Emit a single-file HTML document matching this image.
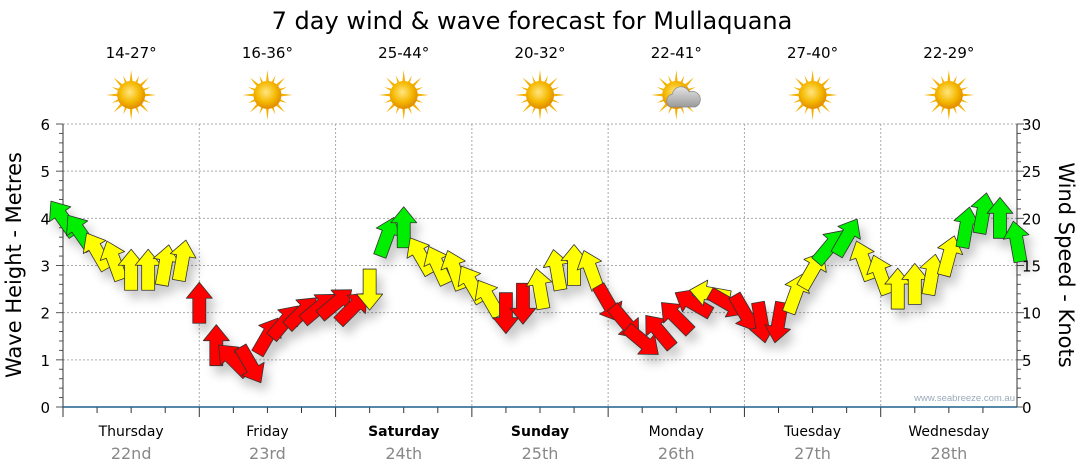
<!DOCTYPE html>
<html><head><meta charset="utf-8"><style>
body{margin:0;background:#fff;}
svg{display:block;font-family:"DejaVu Sans","Liberation Sans",sans-serif;}
</style></head><body>
<svg id="chart" width="1080" height="475" viewBox="0 0 1080 475">
<defs>
<filter id="sh" x="-50%" y="-50%" width="200%" height="200%"><feDropShadow dx="5" dy="8" stdDeviation="5" flood-color="#000" flood-opacity="0.22"/></filter>
<radialGradient id="sunG" cx="45%" cy="40%" r="60%"><stop offset="0" stop-color="#ffe680"/><stop offset="0.6" stop-color="#f5b800"/><stop offset="1" stop-color="#e08a00"/></radialGradient>
<linearGradient id="cloudG" x1="0" y1="0" x2="0" y2="1"><stop offset="0" stop-color="#e4e4e4"/><stop offset="1" stop-color="#9a9a9a"/></linearGradient>
</defs>
<text x="532" y="29" font-size="24" text-anchor="middle" fill="#000">7 day wind &amp; wave forecast for Mullaquana</text>
<g id="grid"></g><g id="axes"></g><g id="days"></g><g id="marks" filter="url(#sh)"></g>
<text x="1015" y="401" font-size="9.5" text-anchor="end" fill="#9aaabb" font-family="Liberation Sans">www.seabreeze.com.au</text>
<text transform="translate(21,265) rotate(-90)" font-size="21" text-anchor="middle">Wave Height - Metres</text>
<text transform="translate(1059,265) rotate(90)" font-size="21" text-anchor="middle">Wind Speed - Knots</text>
</svg>
<script>
const dayNames=["Thursday","Friday","Saturday","Sunday","Monday","Tuesday","Wednesday"];
const dayDates=["22nd","23rd","24th","25th","26th","27th","28th"];
const temps=["14-27°","16-36°","25-44°","20-32°","22-41°","27-40°","22-29°"];
const cloudy=[0,0,0,0,1,0,0];
const waveTicks=[0,1,2,3,4,5,6];
const windTicks=[0,5,10,15,20,25,30];
const waveHeight=[4.0,3.7,3.3,3.1,2.9,2.9,3.0,3.1, 2.2,1.3,1.0,0.9,1.5,1.8,2.0,2.1, 2.2,2.1,2.5,3.6,3.8,3.2,3.0,2.9, 2.6,2.3,2.0,2.2,2.5,2.9,3.0,2.9, 2.2,1.8,1.4,1.6,1.9,2.2,2.4,2.2, 2.0,1.8,1.8,2.4,2.9,3.4,3.6,3.1, 2.8,2.5,2.6,2.8,3.2,3.8,4.1,4.0,3.5];
const windDir=[-35,-35,-30,-20,0,0,10,10, 0,0,-45,150,30,40,45,50, 50,45,180,20,0,-30,-25,-20, -30,-30,180,180,-10,-10,0,-20, 150,140,130,-40,-45,-60,-80,120, 150,170,190,20,30,40,30,-20, -20,0,0,10,15,10,10,0,-10];
const windSpeed=[8,8,14,14,14,14,14,14, 25,25,25,25,25,25,25,25, 25,25,14,8,8,14,14,14, 14,14,25,25,14,14,14,14, 25,25,25,25,25,25,14,25, 25,25,25,14,14,8,8,14, 14,14,14,14,14,8,8,8,8];
const NS="http://www.w3.org/2000/svg";
const X0=63,X1=1017,Y0=407,Y1=124,DW=(X1-X0)/7;
const yW=v=>Y0-(Y0-Y1)*v/6, yK=v=>Y0-(Y0-Y1)*v/30, xT=i=>X0+i*(X1-X0)/168*3;
function mk(t,a,p){const e=document.createElementNS(NS,t);for(const k in a)e.setAttribute(k,a[k]);p.appendChild(e);return e;}
const grid=document.getElementById('grid'),axes=document.getElementById('axes'),days=document.getElementById('days'),marks=document.getElementById('marks');
waveTicks.forEach(v=>{if(v>0){const l=mk('line',{x1:X0,x2:X1,y1:yW(v),y2:yW(v),stroke:'#aaa','stroke-dasharray':'2,2'},grid);

}
const t=mk('text',{x:50,y:yW(v)+6,'font-size':15,'text-anchor':'end'},axes);t.textContent=v;

});
windTicks.forEach(v=>{const t=mk('text',{x:1022,y:yK(v)+6,'font-size':15},axes);t.textContent=v;

});
for(let i=0;i<=30;i++){const y=Y0-(Y0-Y1)*i/30;const w=i%5==0?7:4;
mk('line',{x1:X0-w,x2:X0,y1:y,y2:y,stroke:'#555'},axes);mk('line',{x1:X1,x2:X1+w,y1:y,y2:y,stroke:'#555'},axes);}
mk('line',{x1:X0,x2:X0,y1:Y1,y2:Y0,stroke:'#333'},axes);mk('line',{x1:X1,x2:X1,y1:Y1,y2:Y0,stroke:'#333'},axes);
for(let d=0;d<7;d++){const xs=X0+d*DW;
if(d>0){const l=mk('line',{x1:xs,x2:xs,y1:Y1,y2:Y0,stroke:'#aaa','stroke-dasharray':'2,2'},grid);

}
for(let k=0;k<4;k++)mk('line',{x1:xs+k*DW/4,x2:xs+k*DW/4,y1:Y0,y2:Y0+(k==0?10:6),stroke:'#333'},axes);
const cx=xs+DW/2;
const n=mk('text',{x:cx,y:436,'font-size':14,'text-anchor':'middle','font-weight':(d==2||d==3)?'bold':'normal'},days);n.textContent=dayNames[d];


const dt=mk('text',{x:cx,y:459,'font-size':16,'text-anchor':'middle',fill:'#888'},days);dt.textContent=dayDates[d];


const tt=mk('text',{x:cx,y:58,'font-size':15,'text-anchor':'middle'},days);tt.textContent=temps[d];


const g=mk('g',{transform:`translate(${cx},95)`},days);


for(let r=0;r<16;r++){const a=r*22.5,L=r%2?21:25;mk('polygon',{points:`-3,0 0,-${L} 3,0`,fill:'#f5b000',transform:`rotate(${a})`},g);}
mk('circle',{r:14,fill:'url(#sunG)'},g);
if(cloudy[d]){mk('path',{d:'M-6,12 a7,7 0 0 1 2,-13 a9,9 0 0 1 17,-2 a7,7 0 0 1 6,15 z',fill:'url(#cloudG)',stroke:'#888','stroke-width':0.7},g);}
}
mk('line',{x1:X0,x2:X1,y1:Y0,y2:Y0,stroke:'#1f5f8b','stroke-width':1.5},axes);
const col=s=>s<10?'#00ee00':s<20?'#ffff00':'#ff0000';
waveHeight.forEach((h,i)=>{const p=mk('polygon',{points:'0,-21 13,-5 6.5,-5 6.5,20 -6.5,20 -6.5,-5 -13,-5',fill:col(windSpeed[i]),stroke:'#333','stroke-width':0.8,'stroke-linejoin':'round',transform:`translate(${xT(i)},${yW(h)}) rotate(${windDir[i]})`},marks);

});
</script>
</body></html>
